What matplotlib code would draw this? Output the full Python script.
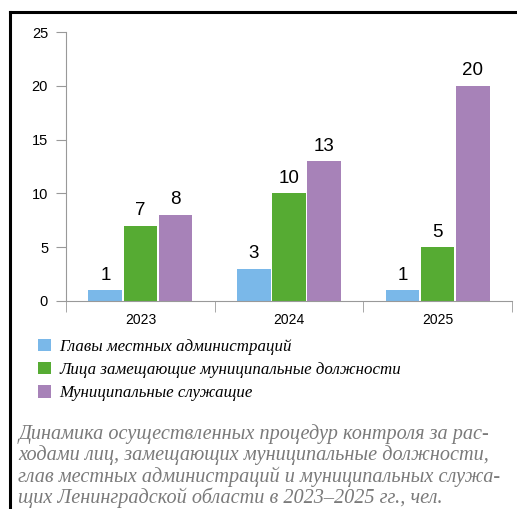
import matplotlib.pyplot as plt
from matplotlib.lines import Line2D
import numpy as np

years = ["2023", "2024", "2025"]
glavy = [1, 3, 1]
litsa = [7, 10, 5]
sluzh = [8, 13, 20]
series_names = [
    "Главы местных администраций",
    "Лица замещающие муниципальные должности",
    "Муниципальные служащие",
]
colors = ["#7ab8e9", "#56ab33", "#a782b8"]
caption = ("Динамика осуществленных процедур контроля за рас-\n"
           "ходами лиц, замещающих муниципальные должности,\n"
           "глав местных администраций и муниципальных служа-\n"
           "щих Ленинградской области в 2023–2025 гг., чел.")

fig = plt.figure(figsize=(5.17, 5.09), dpi=100)
ax = fig.add_axes([0.128, 0.409, 0.862, 0.528])

x = np.arange(len(years))
w = 0.228
step = 0.236
for i, (vals, c) in enumerate(zip([glavy, litsa, sluzh], colors)):
    bars = ax.bar(x + (i - 1) * step, vals, width=w, color=c, label=series_names[i])
    for b, v in zip(bars, vals):
        ax.text(b.get_x() + b.get_width() / 2, v + 0.6, str(v), ha="center", va="bottom",
                fontsize=13.5, family="Liberation Sans")

ax.set_xlim(-0.5, 2.5)
ax.set_ylim(0, 25)
ax.set_yticks([0, 5, 10, 15, 20, 25])
ax.tick_params(axis="y", length=7, color="#999999", labelsize=10.5, pad=6)
ax.set_xticks(x)
ax.set_xticklabels(years, fontsize=10)
ax.tick_params(axis="x", length=0, pad=9)
ax.set_xticks([-0.5, 0.5, 1.5, 2.5], minor=True)
ax.tick_params(axis="x", which="minor", length=8, color="#999999")
for lab in ax.get_xticklabels() + ax.get_yticklabels():
    lab.set_family("Liberation Sans")
for s in ["top", "right"]:
    ax.spines[s].set_visible(False)
for s in ["left", "bottom"]:
    ax.spines[s].set_color("#999999")

leg = fig.legend(loc="upper left", bbox_to_anchor=(0.06, 0.348), frameon=False,
                 handlelength=0.75, handleheight=0.75, handletextpad=0.5,
                 labelspacing=0.42, borderaxespad=0,
                 prop={"family": "Liberation Serif", "style": "italic", "size": 12.2})

fig.text(0.035, 0.167, caption, ha="left", va="top", color="#7a7a7a",
         fontsize=14.6, family="Liberation Serif", style="italic", linespacing=1.08)

# frame lines (left and top)
fig.add_artist(Line2D([0.02, 0.02], [0, 0.977], color="black", lw=2.2, transform=fig.transFigure))
fig.add_artist(Line2D([0.02, 1.0], [0.977, 0.977], color="black", lw=2.2, transform=fig.transFigure))

fig.savefig("out.png", dpi=100)
